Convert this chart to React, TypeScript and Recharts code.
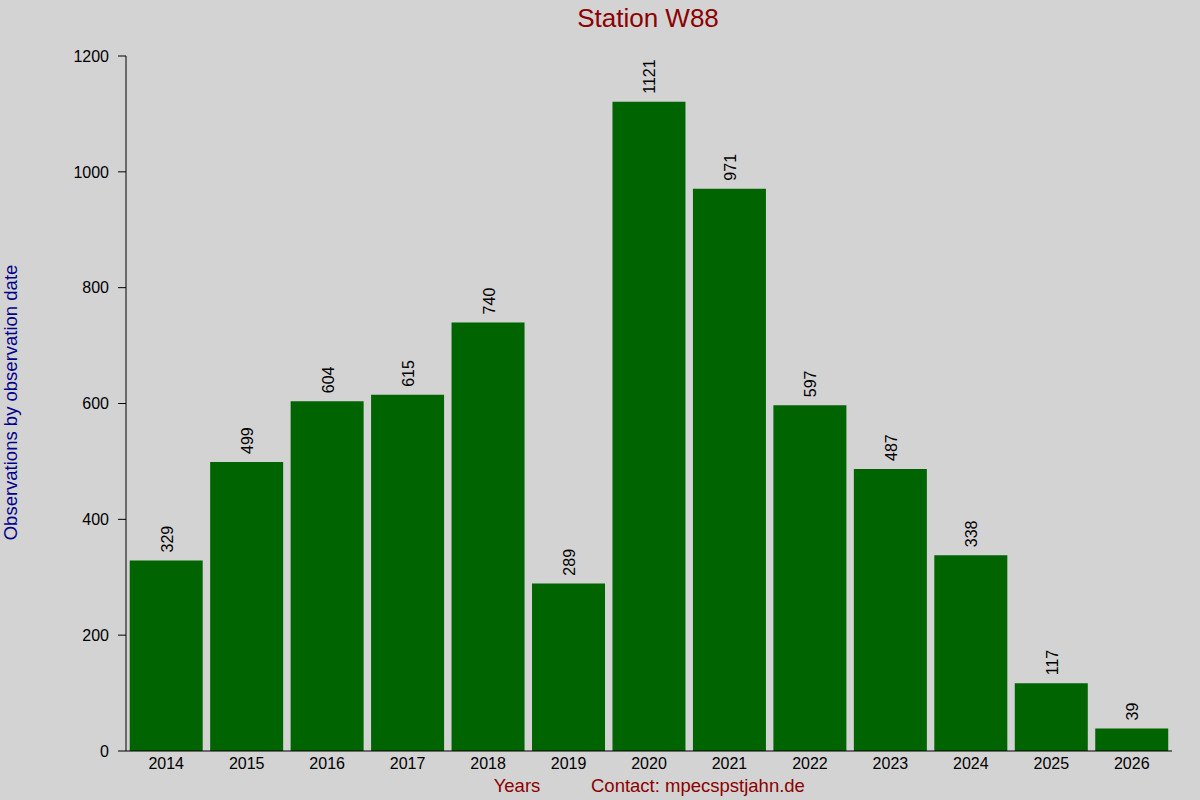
import React from 'react';
import { BarChart, Bar, XAxis, YAxis, LabelList } from 'recharts';

const years = ['2014', '2015', '2016', '2017', '2018', '2019', '2020', '2021', '2022', '2023', '2024', '2025', '2026'];
const counts = [329, 499, 604, 615, 740, 289, 1121, 971, 597, 487, 338, 117, 39];
const yTicks = [0, 200, 400, 600, 800, 1000, 1200];

const data = years.map((y, i) => ({ year: y, count: counts[i] }));

const FONT = '"Liberation Sans", Arial, Helvetica, sans-serif';

const renderLabel = (props: any) => {
  const { x, y, width, value } = props;
  const cx = Number(x) + Number(width) / 2 + 6.5;
  const ty = Number(y) - 8;
  return (
    <text
      x={cx}
      y={ty}
      transform={`rotate(-90 ${cx} ${ty})`}
      textAnchor="start"
      fontSize={16}
      fontFamily={FONT}
      fill="#000"
    >
      {value}
    </text>
  );
};

export default function App() {
  return (
    <div style={{ position: 'absolute', left: 0, top: 0, width: 1200, height: 800, background: '#d3d3d3', fontFamily: FONT }}>
      <BarChart
        width={1200}
        height={800}
        data={data}
        margin={{ top: 56, right: 28, left: 66, bottom: 19 }}
        barCategoryGap="4.6%"
      >
        <XAxis
          dataKey="year"
          height={30}
          axisLine={{ stroke: '#000', strokeWidth: 1 }}
          tickLine={false}
          tickSize={0}
          tickMargin={7}
          tick={{ fill: '#000', fontSize: 16, fontFamily: FONT }}
          interval={0}
        />
        <XAxis
          xAxisId="top"
          dataKey="year"
          orientation="top"
          height={0}
          axisLine={false}
          tickLine={{ stroke: '#000', strokeWidth: 1 }}
          tickSize={1}
          tick={false}
          interval={0}
        />
        <YAxis
          width={60}
          domain={[0, 1200]}
          ticks={yTicks}
          interval={0}
          axisLine={{ stroke: '#000', strokeWidth: 1 }}
          tickLine={{ stroke: '#000', strokeWidth: 1 }}
          tickSize={8}
          tickMargin={9}
          tick={{ fill: '#000', fontSize: 16, fontFamily: FONT }}
        />
        <Bar dataKey="count" fill="#006400" isAnimationActive={false}>
          <LabelList dataKey="count" content={renderLabel} />
        </Bar>
      </BarChart>
      <svg width={1200} height={800} style={{ position: 'absolute', left: 0, top: 0, pointerEvents: 'none' }}>
        <text x={648} y={27} textAnchor="middle" fontSize={26} fontFamily={FONT} fill="#8b0000">
          Station W88
        </text>
        <text x={517} y={791.5} textAnchor="middle" fontSize={18.5} fontFamily={FONT} fill="#8b0000">
          Years
        </text>
        <text x={591} y={791.5} textAnchor="start" fontSize={18.5} fontFamily={FONT} fill="#8b0000">
          Contact: mpecspstjahn.de
        </text>
        <text
          x={17}
          y={402.5}
          transform="rotate(-90 17 402.5)"
          textAnchor="middle"
          fontSize={18.5}
          fontFamily={FONT}
          fill="#00008b"
        >
          Observations by observation date
        </text>
      </svg>
    </div>
  );
}
